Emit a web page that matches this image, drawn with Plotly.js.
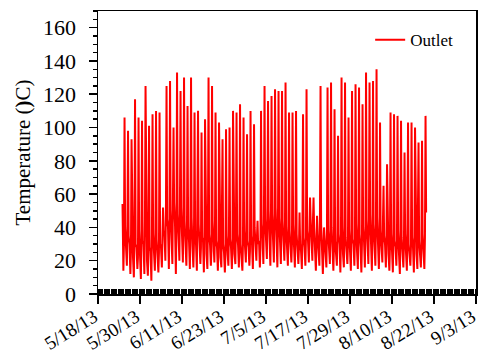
<!DOCTYPE html>
<html>
<head>
<meta charset="utf-8">
<script src="https://cdn.plot.ly/plotly-3.0.1.min.js"></script>
<style>html,body{margin:0;padding:0;background:#fff;}#chart{width:480px;height:360px;}</style>
</head>
<body>
<div id="chart"></div>
<script>
// Daily readings (one entry per day, starting 2013-05-25)
const startDate = '2013-05-25';
const nightTemp = [54,25,30,22,28,24,30,20,26,22, 24,28,35,40,38,42,36,34,30,32, 28,30,26,32,24,30,26,28,22,25, 26,28,24,30,22,26,28,30,24,32, 34,36,38,32,35,30,28,26,30,27, 24,26,28,32,30,26,28,24,26,28, 24,26,30,24,28,22,30,26,28,32, 34,30,32,28,26,30,24,26,28,24, 26,22,25,28,24,26,28];
const morningLow = [14,17,12,10,15,9,12,11,8,14, 13,16,20,15,18,12,20,19,17,15, 16,14,18,13,15,17,19,14,16,13, 17,15,18,16,14,19,17,15,20,16, 18,21,17,19,16,18,20,17,19,16, 18,15,17,19,20,14,17,12,16,18, 14,17,13,16,18,14,17,15,13,16, 18,14,17,15,19,16,14,13,17,12, 16,14,17,13,15,16,15];
const lateMorning = [30,42,26,38,22,34,45,28,36,40, 25,32,52,46,58,40,55,48,36,44, 30,46,28,38,42,26,36,30,44,24, 38,28,42,34,30,46,26,40,34,28, 48,54,44,50,40,46,36,42,30,38, 28,40,34,50,44,30,46,26,36,42, 28,38,32,46,30,40,34,44,30,38, 46,36,42,30,44,34,28,40,32,36, 30,42,28,36,40,30,34];
const dailyPeak = [106,98,93,117,106,104,125,101,108,110, 109,52,125,128,100,133,122,130,113,130, 109,110,97,105,130,125,109,103,93,99, 100,110,109,114,106,96,110,102,44,110, 125,116,119,123,122,122,127,109,109,110, 49,108,123,58,58,47,125,40,124,127, 111,95,130,127,106,122,126,124,114,133, 127,128,135,103,65,78,109,108,107,104, 85,103,103,100,91,92,107];
const eveningTemp = [40,35,45,30,38,32,42,28,36,33, 30,38,45,50,55,48,52,44,40,46, 38,42,34,40,36,44,32,38,30,35, 33,40,36,30,38,32,35,40,30,42, 45,50,48,52,46,44,40,38,42,36, 30,34,38,45,40,36,42,34,38,40, 32,36,40,34,38,33,42,36,40,44, 48,42,46,38,35,40,36,32,38,34, 36,30,34,38,32,36,49];
const readingHours = [0, 6, 10, 14, 18];

const tickDates = ['2013-05-18','2013-05-30','2013-06-11','2013-06-23','2013-07-05','2013-07-17','2013-07-29','2013-08-10','2013-08-22','2013-09-03'];
const tickLabels = ['5/18/13','5/30/13','6/11/13','6/23/13','7/5/13','7/17/13','7/29/13','8/10/13','8/22/13','9/3/13'];

function pad(n){return (n<10?'0':'')+n;}
function stamp(dayIndex, hour){
  const d = new Date(startDate + 'T00:00:00Z');
  d.setUTCDate(d.getUTCDate() + dayIndex);
  return d.getUTCFullYear()+'-'+pad(d.getUTCMonth()+1)+'-'+pad(d.getUTCDate())+' '+pad(hour)+':00';
}
const xs = [], ys = [];
for (let i = 0; i < dailyPeak.length; i++) {
  const vals = [nightTemp[i], morningLow[i], lateMorning[i], dailyPeak[i], eveningTemp[i]];
  for (let k = 0; k < vals.length; k++) { xs.push(stamp(i, readingHours[k])); ys.push(vals[k]); }
}

const font = 'Liberation Serif, Times New Roman, serif';
Plotly.newPlot('chart', [{
  x: xs, y: ys, type: 'scatter', mode: 'lines', name: 'Outlet',
  line: {color: '#ff0000', width: 2}
}], {
  width: 480, height: 360,
  margin: {l: 98, r: 4, t: 11, b: 66},
  paper_bgcolor: '#fff', plot_bgcolor: '#fff',
  font: {family: font, color: '#000', size: 21},
  showlegend: true,
  legend: {x: 0.72, y: 0.897, xanchor: 'left', yanchor: 'middle', bgcolor: 'rgba(0,0,0,0)', font: {family: font, size: 17, color: '#000'}, itemwidth: 30},
  xaxis: {
    type: 'date', range: ['2013-05-18', '2013-09-03 00:02'],
    tickmode: 'array', tickvals: tickDates, ticktext: tickLabels, tickangle: -32,
    ticklabeloverflow: 'allow', automargin: false, ticklabelstandoff: -5, ticklabelshift: -4,
    ticks: 'outside', ticklen: 8, tickwidth: 1.5, tickcolor: '#000',
    minor: {dtick: 86400000, ticks: 'inside', ticklen: 5, tickwidth: 3, tickcolor: '#000', showgrid: false},
    showline: true, linecolor: '#000', linewidth: 1.5, mirror: true,
    showgrid: false, zeroline: false, tickfont: {family: font, size: 19}
  },
  yaxis: {
    range: [0, 170], tickmode: 'linear', tick0: 0, dtick: 20,
    ticks: 'outside', ticklen: 8, tickwidth: 1.5, tickcolor: '#000', ticklabelstandoff: 8,
    automargin: false,
    minor: {dtick: 5, ticks: 'outside', ticklen: 4, tickwidth: 1.5, tickcolor: '#000', showgrid: false},
    showline: true, linecolor: '#000', linewidth: 1.5, mirror: true,
    showgrid: false, zeroline: false, tickfont: {family: font, size: 22},
    title: {text: 'Temperature (<b>)</b>C)', font: {family: font, size: 21}, standoff: 6}
  }
}, {displayModeBar: false, staticPlot: true});
</script>
</body>
</html>
